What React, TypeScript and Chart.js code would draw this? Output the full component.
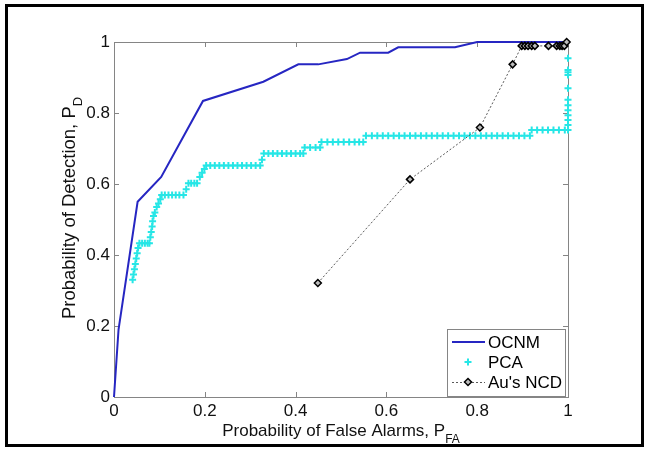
import React, { useEffect, useRef } from 'react';
import { Chart, registerables } from 'chart.js';

Chart.register(...registerables);

// ---------- data ----------
const seriesLabels = ['OCNM', 'PCA', "Au's NCD"];

const xTickValues = [0, 0.2, 0.4, 0.6, 0.8, 1];
const xTickLabels = ['0', '0.2', '0.4', '0.6', '0.8', '1'];
const yTickValues = [0, 0.2, 0.4, 0.6, 0.8, 1];
const yTickLabels = ['0', '0.2', '0.4', '0.6', '0.8', '1'];

const ocnmX = [0, 0.01, 0.052, 0.104, 0.196, 0.329, 0.406, 0.45, 0.513, 0.542, 0.604, 0.626, 0.751, 0.8, 1.0];
const ocnmY = [0, 0.19, 0.55, 0.62, 0.834, 0.888, 0.937, 0.937, 0.952, 0.97, 0.97, 0.985, 0.985, 1.0, 1.0];

const pcaPoints: [number, number][] = [
  [0.041, 0.33], [0.043, 0.345], [0.045, 0.36], [0.047, 0.375], [0.049, 0.39], [0.051, 0.405],
  [0.053, 0.42], [0.056, 0.433], [0.062, 0.433], [0.068, 0.433], [0.074, 0.433], [0.078, 0.433],
  [0.08, 0.45], [0.082, 0.465], [0.084, 0.48], [0.085, 0.495], [0.087, 0.51], [0.09, 0.52],
  [0.094, 0.535], [0.098, 0.545], [0.102, 0.557], [0.105, 0.569], [0.112, 0.569], [0.12, 0.569],
  [0.128, 0.569], [0.136, 0.569], [0.144, 0.569], [0.153, 0.569], [0.159, 0.585], [0.164, 0.602],
  [0.17, 0.602], [0.177, 0.602], [0.183, 0.602], [0.189, 0.62], [0.194, 0.632], [0.199, 0.642],
  [0.203, 0.652], [0.212, 0.652], [0.222, 0.652], [0.232, 0.652], [0.242, 0.652], [0.252, 0.652],
  [0.262, 0.652], [0.272, 0.652], [0.282, 0.652], [0.292, 0.652], [0.302, 0.652], [0.312, 0.652],
  [0.322, 0.652], [0.326, 0.668], [0.33, 0.686], [0.34, 0.686], [0.35, 0.686], [0.36, 0.686],
  [0.37, 0.686], [0.38, 0.686], [0.39, 0.686], [0.4, 0.686], [0.41, 0.686], [0.417, 0.686],
  [0.42, 0.703], [0.432, 0.703], [0.444, 0.703], [0.454, 0.703], [0.457, 0.718], [0.47, 0.718],
  [0.482, 0.718], [0.494, 0.718], [0.506, 0.718], [0.518, 0.718], [0.53, 0.718], [0.54, 0.718],
  [0.549, 0.718], [0.555, 0.736], [0.568, 0.736], [0.58, 0.736], [0.592, 0.736], [0.604, 0.736],
  [0.616, 0.736], [0.628, 0.736], [0.64, 0.736], [0.652, 0.736], [0.664, 0.736], [0.676, 0.736],
  [0.688, 0.736], [0.7, 0.736], [0.712, 0.736], [0.724, 0.736], [0.736, 0.736], [0.748, 0.736],
  [0.76, 0.736], [0.772, 0.736], [0.784, 0.736], [0.796, 0.736], [0.808, 0.736], [0.82, 0.736],
  [0.832, 0.736], [0.844, 0.736], [0.856, 0.736], [0.868, 0.736], [0.88, 0.736], [0.892, 0.736],
  [0.904, 0.736], [0.916, 0.736], [0.92, 0.752], [0.932, 0.752], [0.944, 0.752], [0.956, 0.752],
  [0.968, 0.752], [0.98, 0.752], [0.993, 0.752], [1, 0.752], [1, 0.766], [1, 0.78], [1, 0.794],
  [1, 0.808], [1, 0.822], [1, 0.837], [1, 0.87], [1, 0.907], [1, 0.915], [1, 0.921], [1, 0.954],
];

const ncdX = [0.449, 0.652, 0.806, 0.878, 0.898, 0.905, 0.912, 0.92, 0.927, 0.957, 0.975, 0.982, 0.987, 0.992, 0.997];
const ncdY = [0.321, 0.613, 0.759, 0.937, 0.989, 0.989, 0.989, 0.989, 0.989, 0.989, 0.989, 0.989, 0.989, 0.989, 1.0];

const xTitle = 'Probability of False Alarms, P';
const xTitleSub = 'FA';
const yTitle = 'Probability of Detection, P';
const yTitleSub = 'D';

// ---------- styles ----------
const FONT = '"Liberation Sans", Arial, Helvetica, sans-serif';
const ocnmColor = '#2626c2';
const pcaColor = '#26e6e6';
const ncdLineColor = '#5a5a5a';
const axisColor = '#858585';

const decorPlugin = {
  id: 'decor',
  beforeDraw(chart: any) {
    const ctx = chart.ctx;
    ctx.save();
    ctx.fillStyle = '#ffffff';
    ctx.fillRect(0, 0, chart.width, chart.height);
    ctx.restore();
  },
  beforeDatasetsDraw(chart: any) {
    const { ctx, chartArea: a, scales } = chart;
    const xs = scales.x;
    const ys = scales.y;
    ctx.save();
    ctx.strokeStyle = axisColor;
    ctx.lineWidth = 1;
    ctx.strokeRect(Math.round(a.left) + 0.5, Math.round(a.top) + 0.5, Math.round(a.right - a.left), Math.round(a.bottom - a.top));
    const tl = 5;
    ctx.beginPath();
    xTickValues.forEach((v) => {
      const px = Math.round(xs.getPixelForValue(v)) + 0.5;
      ctx.moveTo(px, a.bottom);
      ctx.lineTo(px, a.bottom - tl);
      ctx.moveTo(px, a.top);
      ctx.lineTo(px, a.top + tl);
    });
    yTickValues.forEach((v) => {
      const py = Math.round(ys.getPixelForValue(v)) + 0.5;
      ctx.moveTo(a.left, py);
      ctx.lineTo(a.left + tl, py);
      ctx.moveTo(a.right, py);
      ctx.lineTo(a.right - tl, py);
    });
    ctx.stroke();
    ctx.restore();
  },
  afterDraw(chart: any) {
    const { ctx, chartArea: a } = chart;
    ctx.save();
    // x title
    ctx.fillStyle = '#111';
    ctx.font = `17px ${FONT}`;
    ctx.textBaseline = 'alphabetic';
    ctx.textAlign = 'left';
    const xw = ctx.measureText(xTitle).width;
    ctx.font = `12px ${FONT}`;
    const xsw = ctx.measureText(xTitleSub).width;
    const cx = (a.left + a.right) / 2;
    const xStart = cx - (xw + xsw) / 2;
    ctx.font = `17px ${FONT}`;
    ctx.fillText(xTitle, xStart, 436);
    ctx.font = `12px ${FONT}`;
    ctx.fillText(xTitleSub, xStart + xw, 443);

    // y title (rotated)
    ctx.save();
    ctx.translate(75, 208);
    ctx.rotate(-Math.PI / 2);
    ctx.font = `18.5px ${FONT}`;
    const yw = ctx.measureText(yTitle).width;
    ctx.font = `13px ${FONT}`;
    const ysw = ctx.measureText(yTitleSub).width;
    const yStart = -(yw + ysw) / 2;
    ctx.font = `18.5px ${FONT}`;
    ctx.fillText(yTitle, yStart, 0);
    ctx.font = `13px ${FONT}`;
    ctx.fillText(yTitleSub, yStart + yw, 7);
    ctx.restore();

    // legend
    const lx = 447, ly = 329, lw = 118, lh = 67;
    ctx.fillStyle = '#ffffff';
    ctx.fillRect(lx, ly, lw, lh);
    ctx.strokeStyle = axisColor;
    ctx.lineWidth = 1;
    ctx.strokeRect(lx + 0.5, ly + 0.5, lw, lh);
    const rows = [342, 362, 382];
    const sx0 = 452, sx1 = 485, sm = 468;
    // OCNM
    ctx.strokeStyle = ocnmColor;
    ctx.lineWidth = 2;
    ctx.beginPath();
    ctx.moveTo(sx0, rows[0]);
    ctx.lineTo(sx1, rows[0]);
    ctx.stroke();
    // PCA
    ctx.strokeStyle = pcaColor;
    ctx.lineWidth = 2;
    ctx.beginPath();
    ctx.moveTo(sm - 3.5, rows[1]);
    ctx.lineTo(sm + 3.5, rows[1]);
    ctx.moveTo(sm, rows[1] - 3.5);
    ctx.lineTo(sm, rows[1] + 3.5);
    ctx.stroke();
    // NCD
    ctx.strokeStyle = ncdLineColor;
    ctx.lineWidth = 1;
    ctx.setLineDash([2, 2]);
    ctx.beginPath();
    ctx.moveTo(sx0, rows[2] + 0.5);
    ctx.lineTo(sx1, rows[2] + 0.5);
    ctx.stroke();
    ctx.setLineDash([]);
    ctx.fillStyle = '#bdbdbd';
    ctx.strokeStyle = '#000';
    ctx.lineWidth = 1.5;
    ctx.beginPath();
    ctx.moveTo(sm, rows[2] - 3.5);
    ctx.lineTo(sm + 3.5, rows[2]);
    ctx.lineTo(sm, rows[2] + 3.5);
    ctx.lineTo(sm - 3.5, rows[2]);
    ctx.closePath();
    ctx.fill();
    ctx.stroke();
    ctx.fillStyle = '#000';
    ctx.font = `17px ${FONT}`;
    ctx.textBaseline = 'middle';
    seriesLabels.forEach((t, i) => ctx.fillText(t, 488, rows[i] + 1));

    // outer frame
    ctx.strokeStyle = '#000';
    ctx.lineWidth = 3;
    ctx.strokeRect(6.5, 5.5, 636, 440);
    ctx.restore();
  },
};

export default function App() {
  const ref = useRef<HTMLCanvasElement | null>(null);

  useEffect(() => {
    if (!ref.current) return;
    const chart = new Chart(ref.current, {
      type: 'scatter',
      data: {
        datasets: [
          {
            label: seriesLabels[0],
            data: ocnmX.map((x, i) => ({ x, y: ocnmY[i] })),
            showLine: true,
            borderColor: ocnmColor,
            borderWidth: 2,
            pointRadius: 0,
            clip: false,
            order: 3,
          },
          {
            label: seriesLabels[1],
            data: pcaPoints.map(([x, y]) => ({ x, y })),
            showLine: false,
            pointStyle: 'cross',
            pointRadius: 3.5,
            borderColor: pcaColor,
            backgroundColor: pcaColor,
            borderWidth: 2,
            clip: false,
            order: 2,
          },
          {
            label: seriesLabels[2],
            data: ncdX.map((x, i) => ({ x, y: ncdY[i] })),
            showLine: true,
            borderColor: ncdLineColor,
            borderWidth: 1,
            borderDash: [2, 2],
            pointStyle: 'rectRot',
            pointRadius: 3.5,
            pointBorderColor: '#000',
            pointBackgroundColor: '#bdbdbd',
            pointBorderWidth: 1.5,
            clip: false,
            order: 1,
          },
        ] as any,
      },
      options: {
        animation: false,
        responsive: false,
        devicePixelRatio: 1,
        layout: { padding: { left: 0, right: 81, top: 42, bottom: 0 } },
        plugins: {
          legend: { display: false },
          tooltip: { enabled: false },
          title: { display: false },
        },
        scales: {
          x: {
            type: 'linear',
            min: 0,
            max: 1,
            grid: { display: false, drawTicks: false },
            border: { display: false },
            afterBuildTicks: (s: any) => {
              s.ticks = xTickValues.map((v) => ({ value: v }));
            },
            afterFit: (s: any) => {
              s.height = 53;
            },
            ticks: {
              padding: 4,
              color: '#111',
              font: { family: FONT, size: 17 },
              maxRotation: 0,
              autoSkip: false,
              callback: (_v: any, i: number) => xTickLabels[i],
            },
          },
          y: {
            type: 'linear',
            min: 0,
            max: 1,
            grid: { display: false, drawTicks: false },
            border: { display: false },
            afterBuildTicks: (s: any) => {
              s.ticks = yTickValues.map((v) => ({ value: v }));
            },
            afterFit: (s: any) => {
              s.width = 114;
            },
            ticks: {
              padding: 4,
              color: '#111',
              font: { family: FONT, size: 17 },
              autoSkip: false,
              callback: (_v: any, i: number) => yTickLabels[i],
            },
          },
        },
      } as any,
      plugins: [decorPlugin],
    });
    return () => chart.destroy();
  }, []);

  return (
    <div style={{ position: 'absolute', left: 0, top: 0, width: 649, height: 450, background: '#fff' }}>
      <canvas ref={ref} width={649} height={450} style={{ display: 'block' }} />
    </div>
  );
}
